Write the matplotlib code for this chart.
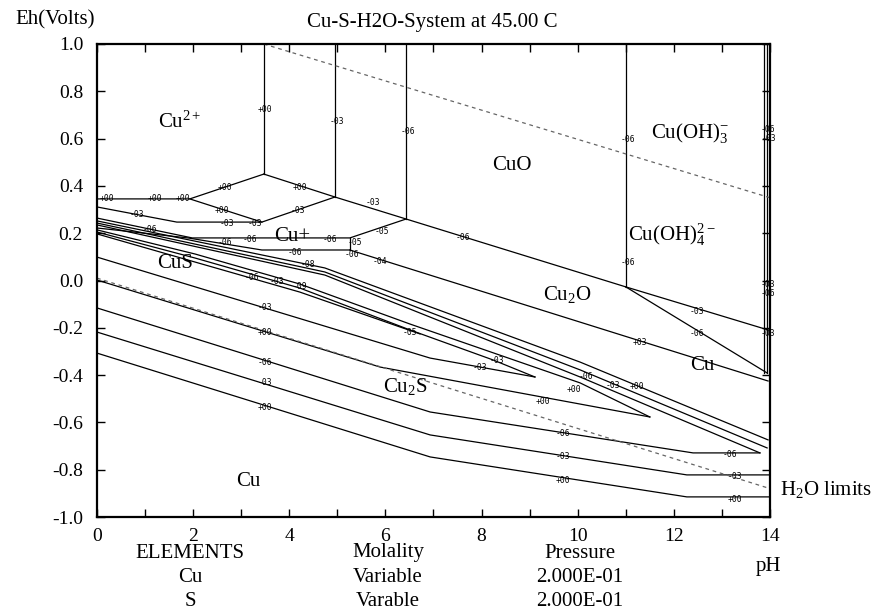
import matplotlib
matplotlib.use("Agg")
import matplotlib.pyplot as plt

plt.rcParams['font.family'] = ['Liberation Serif', 'DejaVu Serif']
plt.rcParams['mathtext.fontset'] = 'custom'
plt.rcParams['mathtext.rm'] = 'Liberation Serif'
plt.rcParams['mathtext.it'] = 'Liberation Serif:italic'
plt.rcParams['axes.unicode_minus'] = False

# boundary lines (pH, Eh)
v00_ph, v00_eh = [3.47, 3.47], [1.0, 0.45]
v03_ph, v03_eh = [4.95, 4.95], [1.0, 0.353]
v06_ph, v06_eh = [6.43, 6.43], [1.0, 0.26]
v11_ph, v11_eh = [11.0, 11.0], [1.0, -0.027]
vr1_ph, vr1_eh = [13.88, 13.88], [1.0, -0.39]
vr2_ph, vr2_eh = [13.94, 13.94], [1.0, -0.39]

cuo_ph = [3.47, 4.95, 6.43, 11.0]
cuo_eh = [0.45, 0.353, 0.26, -0.027]
ox03_ph, ox03_eh = [11.0, 13.96], [-0.027, -0.209]
ox06_ph, ox06_eh = [11.0, 13.94], [-0.027, -0.391]
cu2o_ph, cu2o_eh = [5.26, 13.96], [0.129, -0.425]

p00_ph, p00_eh = [0, 1.93, 3.47], [0.345, 0.345, 0.45]
p00b_ph, p00b_eh = [1.93, 3.43], [0.345, 0.247]
p03_ph, p03_eh = [0, 1.66, 3.43, 4.95], [0.311, 0.247, 0.247, 0.353]
p06_ph, p06_eh = [0, 1.98, 5.26, 6.43], [0.264, 0.18, 0.18, 0.26]
p06s_ph, p06s_eh = [5.26, 5.26], [0.18, 0.129]
p06l_ph, p06l_eh = [0, 1.89, 3.43, 5.26], [0.222, 0.18, 0.129, 0.129]

u1_ph, u1_eh = [0, 4.74, 10.05, 13.96], [0.252, 0.053, -0.345, -0.674]
u2_ph, u2_eh = [0, 4.74, 10.05, 13.94], [0.243, 0.036, -0.378, -0.708]
u3_ph, u3_eh = [0, 4.74, 10.05, 13.79], [0.235, 0.023, -0.408, -0.729]
l1_ph = [0, 2.04, 4.22, 6.51, 10.05, 11.50]
l1_eh = [0.214, 0.112, -0.015, -0.184, -0.433, -0.577]
l2_ph = [0, 2.04, 4.22, 6.51, 8.24, 9.11]
l2_eh = [0.205, 0.095, -0.032, -0.209, -0.336, -0.408]
l3_ph, l3_eh = [0, 2.04, 4.22, 6.72], [0.197, 0.078, -0.049, -0.226]

s03_ph, s03_eh = [0, 6.93, 7.97, 9.11], [0.099, -0.328, -0.366, -0.408]
s00_ph, s00_eh = [0, 5.89, 11.50], [0.002, -0.366, -0.577]

c06_ph, c06_eh = [0, 6.93, 12.40, 13.79], [-0.116, -0.556, -0.729, -0.729]
c03_ph, c03_eh = [0, 6.93, 12.27, 14.0], [-0.218, -0.653, -0.822, -0.822]
c00_ph, c00_eh = [0, 6.93, 12.27, 14.0], [-0.307, -0.746, -0.915, -0.915]

h2o_up_ph, h2o_up_eh = [3.47, 14.0], [1.0, 0.35]
h2o_lo_ph, h2o_lo_eh = [0, 14.0], [0.01, -0.88]

lines = [
    (v00_ph, v00_eh), (v03_ph, v03_eh), (v06_ph, v06_eh), (v11_ph, v11_eh),
    (vr1_ph, vr1_eh), (vr2_ph, vr2_eh), (cuo_ph, cuo_eh), (ox03_ph, ox03_eh),
    (ox06_ph, ox06_eh), (cu2o_ph, cu2o_eh), (p00_ph, p00_eh), (p00b_ph, p00b_eh),
    (p03_ph, p03_eh), (p06_ph, p06_eh), (p06s_ph, p06s_eh), (p06l_ph, p06l_eh),
    (u1_ph, u1_eh), (u2_ph, u2_eh), (u3_ph, u3_eh), (l1_ph, l1_eh),
    (l2_ph, l2_eh), (l3_ph, l3_eh), (s03_ph, s03_eh), (s00_ph, s00_eh),
    (c06_ph, c06_eh), (c03_ph, c03_eh), (c00_ph, c00_eh),
]

# small concentration tags (log molality)
tag_text = ['+00', '-03', '-06', '-06', '-06', '-06', '-03', '-03', '-06', '-03',
            '+00', '+00', '+00', '+00', '+00', '+00', '-03', '-03', '-03', '-03',
            '-03', '-06', '-06', '-06', '-06', '-05', '-05', '-06', '-06', '-06',
            '-04', '-03', '-06', '+03', '-08', '-06', '-03', '-09', '-03', '+00',
            '-06', '-03', '+00', '-05', '-03', '-03', '-06', '+00', '-03', '+00',
            '+00', '-06', '-03', '+00', '-06', '-03', '+00']
tag_ph = [3.50, 4.99, 6.47, 11.05, 11.05, 13.96, 13.98, 13.96, 13.96, 13.96,
          0.21, 1.21, 1.79, 2.66, 4.22, 2.60, 0.83, 2.70, 3.29, 4.18,
          5.74, 1.10, 2.66, 3.18, 4.85, 5.93, 5.36, 5.30, 4.12, 7.61,
          5.89, 12.48, 12.48, 11.30, 4.39, 3.22, 3.74, 4.22, 3.49, 3.49,
          3.49, 3.49, 3.49, 6.51, 8.32, 7.97, 10.18, 9.92, 10.73, 11.23,
          9.28, 9.69, 9.69, 9.69, 13.17, 13.27, 13.27]
tag_eh = [0.721, 0.674, 0.632, 0.598, 0.074, 0.64, 0.60, -0.015, -0.057, -0.222,
          0.345, 0.345, 0.345, 0.395, 0.395, 0.294, 0.277, 0.243, 0.243, 0.298,
          0.328, 0.214, 0.159, 0.175, 0.175, 0.209, 0.160, 0.108, 0.120, 0.180,
          0.082, -0.133, -0.222, -0.264, 0.066, 0.011, -0.006, -0.027, -0.116, -0.218,
          -0.345, -0.433, -0.535, -0.218, -0.340, -0.366, -0.408, -0.462, -0.442, -0.450,
          -0.510, -0.649, -0.746, -0.844, -0.734, -0.830, -0.924]

# field names
field_names = ['Cu$^{2+}$', 'CuO', 'Cu(OH)$_3^{-}$', 'Cu(OH)$_4^{2-}$', 'Cu+',
               'CuS', 'Cu$_2$O', 'Cu', 'Cu$_2$S', 'Cu']
field_ph = [1.73, 8.63, 12.34, 11.96, 4.06, 1.62, 9.78, 12.60, 6.41, 3.14]
field_eh = [0.67, 0.488, 0.624, 0.192, 0.188, 0.07, -0.061, -0.36, -0.45, -0.852]

x_ticks = list(range(0, 15, 2))
y_ticks = [1.0, 0.8, 0.6, 0.4, 0.2, 0.0, -0.2, -0.4, -0.6, -0.8, -1.0]

fig = plt.figure(figsize=(8.78, 6.13), dpi=100)
ax = fig.add_axes([97 / 878, 1 - 517 / 613, 673 / 878, 473 / 613])

for ph, eh in lines:
    ax.plot(ph, eh, color='black', lw=0.9)

ax.plot(h2o_up_ph, h2o_up_eh, color='#666666', lw=0.9, ls=(0, (3, 3)))
ax.plot(h2o_lo_ph, h2o_lo_eh, color='#666666', lw=0.9, ls=(0, (3, 3)))

for t, x, y in zip(tag_text, tag_ph, tag_eh):
    ax.text(x, y, t, fontsize=5.8, family='DejaVu Sans Mono', ha='center',
            va='center')

for t, x, y in zip(field_names, field_ph, field_eh):
    ax.text(x, y, t, fontsize=15, ha='center', va='center')

ax.text(15.17, -0.885, 'H$_2$O limits', fontsize=15, ha='center', va='center',
        clip_on=False)

ax.set_xlim(0, 14)
ax.set_ylim(-1.0, 1.0)
ax.set_xticks(x_ticks)
ax.set_xticks(range(1, 14, 2), minor=True)
ax.set_xticklabels([str(v) for v in x_ticks])
ax.set_yticks(y_ticks)
ax.set_yticklabels(['%.1f' % v for v in y_ticks])
ax.tick_params(which='both', direction='in', top=True, right=True,
               length=6, width=1, labelsize=14)
ax.tick_params(axis='x', pad=8)
ax.tick_params(axis='y', pad=10)
for sp in ax.spines.values():
    sp.set_linewidth(1.6)

fig.text(55 / 878, 1 - 20 / 613, 'Eh(Volts)', fontsize=15, ha='center', va='center')
fig.text(432 / 878, 1 - 22 / 613, 'Cu-S-H2O-System at 45.00 C', fontsize=15,
         ha='center', va='center')

cols = [190, 388, 580]
rows = [553, 578, 602]
table = [['ELEMENTS', 'Cu', 'S'],
         ['Molality', 'Variable', 'Varable'],
         ['Pressure', '2.000E-01', '2.000E-01']]
for cx, col in zip(cols, table):
    for ry, txt in zip(rows, col):
        fig.text(cx / 878, 1 - ry / 613, txt, fontsize=15, ha='center', va='center')
fig.text(768 / 878, 1 - 566 / 613, 'pH', fontsize=15, ha='center', va='center')

fig.savefig('out.png', dpi=100)
